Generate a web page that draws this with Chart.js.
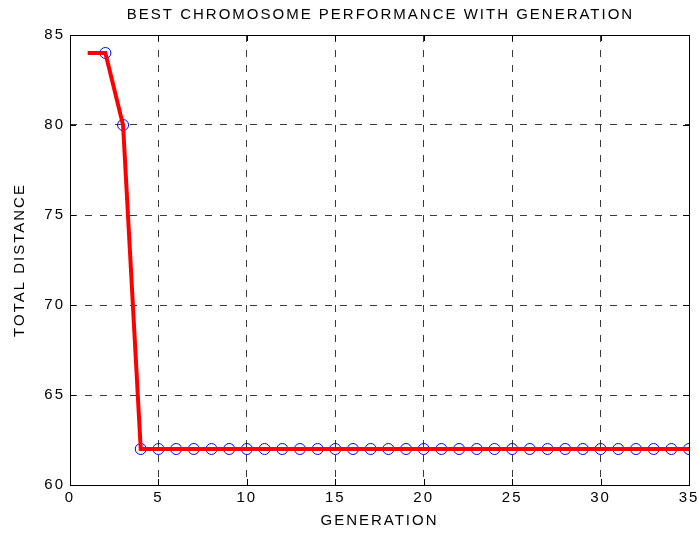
<!DOCTYPE html>
<html>
<head>
<meta charset="utf-8">
<script src="https://cdn.jsdelivr.net/npm/chart.js@4/dist/chart.umd.min.js"></script>
<style>
html,body{margin:0;padding:0;background:#fff;}
#wrap{width:699px;height:535px;}
</style>
</head>
<body>
<div id="wrap"><canvas id="c" width="699" height="535"></canvas></div>
<script>
const generations = [1,2,3,4,5,6,7,8,9,10,11,12,13,14,15,16,17,18,19,20,21,22,23,24,25,26,27,28,29,30,31,32,33,34,35];
const distances = [84,84,80,62,62,62,62,62,62,62,62,62,62,62,62,62,62,62,62,62,62,62,62,62,62,62,62,62,62,62,62,62,62,62,62];
const markerGenerations = generations.slice(1);
const markerDistances = distances.slice(1);
const xTicks = [0,5,10,15,20,25,30,35];
const yTicks = [60,65,70,75,80,85];

const FONT = "'Liberation Sans', Arial, sans-serif";

const spacingPlugin = {
  id: 'spacing',
  beforeInit(chart) { chart.ctx.letterSpacing = '2px'; },
  beforeLayout(chart) { chart.ctx.letterSpacing = '2px'; },
  afterLayout(chart) {
    const t = chart.titleBlock;
    if (t) { t.left = chart.chartArea.left; t.right = chart.chartArea.right + 2; }
  },
  beforeDraw(chart) { chart.ctx.letterSpacing = '2px'; }
};

const boxPlugin = {
  id: 'box',
  beforeDatasetsDraw(chart) {
    const {ctx, chartArea: a, scales} = chart;
    ctx.save();
    ctx.strokeStyle = '#000';
    ctx.lineWidth = 1;
    ctx.setLineDash([]);
    ctx.strokeRect(Math.round(a.left) + 0.5, Math.round(a.top) + 0.5, Math.round(a.right - a.left), Math.round(a.bottom - a.top));
    const L = 6;
    ctx.beginPath();
    xTicks.forEach(v => {
      const x = Math.round(scales.x.getPixelForValue(v)) + 0.5;
      ctx.moveTo(x, a.bottom); ctx.lineTo(x, a.bottom - L);
      ctx.moveTo(x, a.top); ctx.lineTo(x, a.top + L);
    });
    yTicks.forEach(v => {
      const y = Math.round(scales.y.getPixelForValue(v)) + 0.5;
      ctx.moveTo(a.left, y); ctx.lineTo(a.left + L, y);
      ctx.moveTo(a.right, y); ctx.lineTo(a.right - L, y);
    });
    ctx.stroke();
    ctx.restore();
  }
};

new Chart(document.getElementById('c'), {
  type: 'line',
  data: {
    datasets: [
      {
        label: 'Best',
        data: generations.map((g, i) => ({x: g, y: distances[i]})),
        borderColor: '#ff0000',
        borderWidth: 4,
        pointRadius: 0,
        tension: 0,
        fill: false,
        order: 0
      },
      {
        label: 'Markers',
        data: markerGenerations.map((g, i) => ({x: g, y: markerDistances[i]})),
        showLine: false,
        pointStyle: 'circle',
        pointRadius: 5.5,
        pointBorderColor: '#0000ff',
        pointBackgroundColor: 'rgba(0,0,0,0)',
        pointBorderWidth: 1,
        order: 1
      }
    ]
  },
  options: {
    responsive: false,
    animation: false,
    events: [],
    layout: {padding: {top: 0, right: 10, left: 0, bottom: 0}},
    plugins: {
      legend: {display: false},
      tooltip: {enabled: false},
      title: {
        display: true,
        text: 'BEST CHROMOSOME PERFORMANCE WITH GENERATION',
        color: '#000',
        font: {family: FONT, size: 15, weight: 'normal'},
        padding: {top: 6, bottom: 11}
      }
    },
    scales: {
      x: {
        type: 'linear',
        min: 0, max: 35,
        afterFit(s) { s.height = 50; s.paddingLeft = 0; s.paddingRight = 0; },
        afterBuildTicks(s) { s.ticks = xTicks.map(v => ({value: v})); },
        ticks: {color: '#000', font: {family: FONT, size: 15}, padding: 4, maxRotation: 0},
        grid: {color: '#3a3a3a', lineWidth: 1, drawTicks: false, tickLength: 0},
        border: {display: false, dash: [7, 8]},
        title: {display: true, text: 'GENERATION', color: '#000', font: {family: FONT, size: 15}, padding: {top: 0, bottom: 5}}
      },
      y: {
        type: 'linear',
        min: 60, max: 85,
        afterFit(s) { s.width = 70; s.paddingTop = 0; s.paddingBottom = 0; },
        afterBuildTicks(s) { s.ticks = yTicks.map(v => ({value: v})); },
        ticks: {color: '#000', font: {family: FONT, size: 15}, padding: 5},
        grid: {color: '#3a3a3a', lineWidth: 1, drawTicks: false, tickLength: 0},
        border: {display: false, dash: [7, 8]},
        title: {display: true, text: 'TOTAL DISTANCE', color: '#000', font: {family: FONT, size: 15}, padding: {top: 11, bottom: 0}}
      }
    }
  },
  plugins: [spacingPlugin, boxPlugin]
});
</script>
</body>
</html>
